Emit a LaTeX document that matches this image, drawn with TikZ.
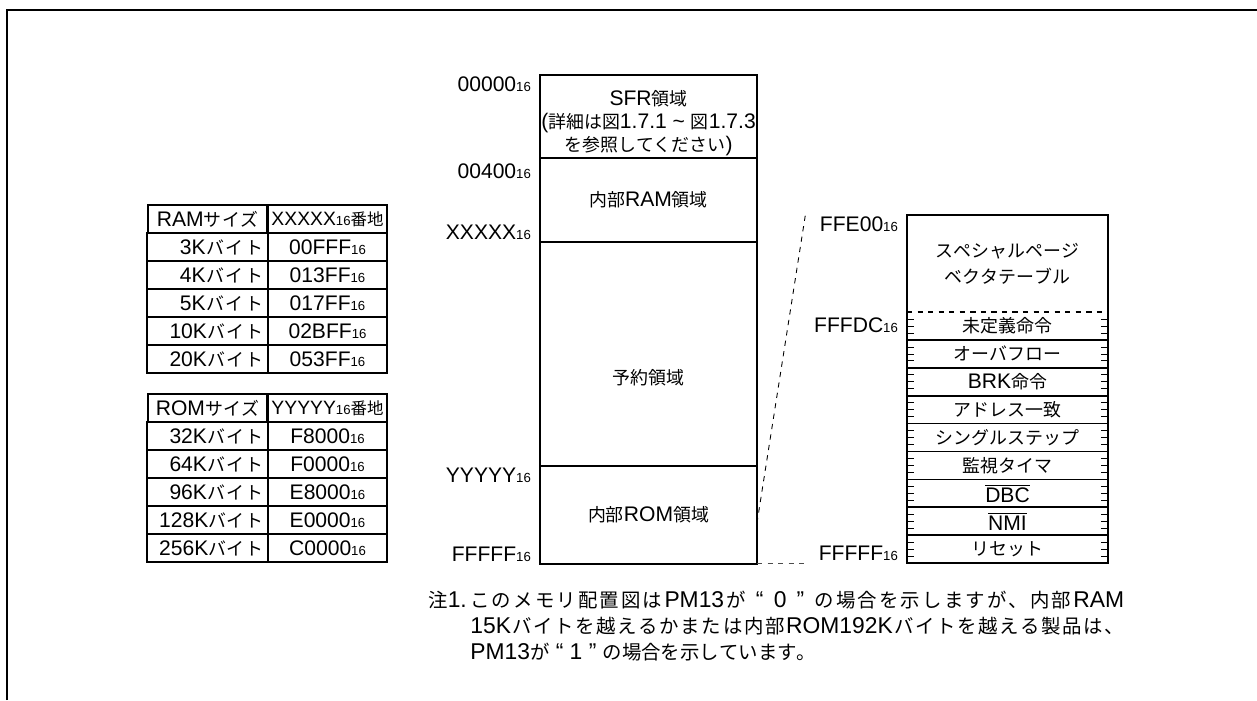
\documentclass[tikz,border=0pt]{standalone}
\usepackage{fontspec}
\setmainfont{Liberation Sans}
\newfontfamily\jp[Scale=0.85]{Noto Sans CJK JP}
\usetikzlibrary{positioning}

% switch to the Japanese font for CJK characters
\XeTeXinterchartokenstate=1
\newXeTeXintercharclass\jpclass
\newcount\jpc
\def\jprange#1#2{\jpc=#1 \loop\XeTeXcharclass\jpc=\jpclass \ifnum\jpc<#2 \advance\jpc by 1 \repeat}
\jprange{"3000}{"30FF}
\jprange{"4E00}{"9FFF}
\jprange{"FF00}{"FFEF}
\XeTeXinterchartoks 0 \jpclass = {\nobreak\hskip0pt plus 1pt\jp}
\XeTeXinterchartoks 4095 \jpclass = {\jp}
\XeTeXinterchartoks \jpclass 0 = {\normalfont\nobreak\hskip0pt plus 1pt}
\XeTeXinterchartoks \jpclass 4095 = {\normalfont}
\XeTeXinterchartoks \jpclass \jpclass = {\nobreak\hskip0pt plus 1pt}

\newcommand\adr[1]{#1{\fontsize{7.5}{8}\selectfont 16}}

\tikzset{%
      base/.style = {rectangle, draw=black, line width=1pt, inner sep=0pt,
                     outer sep=0pt, align=center, font=\fontsize{12}{13}\selectfont},
      area/.style = {base, minimum width=4.34cm},
      vtop/.style = {base, draw=none, minimum width=4.02cm, font=\fontsize{12}{15}\selectfont},
      vrow/.style = {base, draw=none, minimum width=4.02cm, minimum height=0.558cm},
     cellL/.style = {base, line width=0.8pt, minimum height=0.56cm, text width=2.22cm,
                     inner xsep=0.1cm, align=right},
     cellC/.style = {cellL, text width=2.18cm, align=center},
     cellH/.style = {cellC, text width=2.3cm, inner xsep=0.04cm, font=\fontsize{11}{13}\selectfont},
      addr/.style = {inner sep=1pt, font=\fontsize{12}{13}\selectfont},
      note/.style = {inner sep=0pt, align=left, font=\fontsize{13}{14.6}\selectfont},
      tick/.style = {line width=0.4pt},
  zoomline/.style = {line width=0.5pt, dash pattern=on 3pt off 3pt},
}

\begin{document}
\begin{tikzpicture}[x=0.02cm, y=-0.02cm]
  \useasboundingbox (0,0) rectangle (1257,700);
  \draw[line width=1.2pt] (7,700) -- (7,10) -- (1257,10);

  % memory map
  \node (onSFR)     [area, minimum height=1.66cm] at (648.5,116.5) {};
  \node (onSFRTxt)  [base, draw=none] at ([yshift=-0.13cm]onSFR.center)
  {SFR領域\\(詳細は図1.7.1 \textasciitilde{} 図1.7.3\\を参照してください)};
  \node (onRAM)     [area, minimum height=1.68cm, below=0pt of onSFR]  {内部RAM領域};
  \node (onResv)    [area, minimum height=4.48cm, below=0pt of onRAM]  {};
  \node (onResvTxt) [base, draw=none] at ([yshift=-0.48cm]onResv.center) {予約領域};
  \node (onROM)     [area, minimum height=1.96cm, below=0pt of onResv] {内部ROM領域};

  \node (onA0000) [addr, anchor=north east] at ([xshift=-4pt]onSFR.north west)  {\adr{00000}};
  \node (onA0040) [addr, anchor=north east] at ([xshift=-4pt,yshift=-2pt]onRAM.north west) {\adr{00400}};
  \node (onAXXXX) [addr, anchor=south east] at ([xshift=-4pt]onRAM.south west)  {\adr{XXXXX}};
  \node (onAYYYY) [addr, anchor=north east] at ([xshift=-4pt]onROM.north west)  {\adr{YYYYY}};
  \node (onAFFFF) [addr, anchor=south east] at ([xshift=-4pt]onROM.south west)  {\adr{FFFFF}};

  % special page vector table
  \node (onVtop) [vtop, minimum height=1.94cm] at (1007.5,263.5) {スペシャルページ\\ベクタテーブル};
  \foreach \t [count=\i] in {未定義命令, オーバフロー, BRK命令, アドレス一致, シングルステップ,
                             監視タイマ, $\overline{\mbox{DBC}}$, $\overline{\mbox{NMI}}$, リセット}
    \node (onV\i) [vrow] at (1007.5, {312+27.9*(\i-0.5)}) {\t};
  \foreach \i in {1,...,8}
    \draw[line width=1pt] (onV\i.south west) -- (onV\i.south east);
  \foreach \i in {1,...,9}
    \foreach \k in {1,2,3} {
      \draw[tick] ([yshift={-\k*0.1395cm}]onV\i.north west) -- ++(7,0);
      \draw[tick] ([yshift={-\k*0.1395cm}]onV\i.north east) -- ++(-7,0);
    }
  \draw[line width=1pt] (onVtop.north west) rectangle (onV9.south east);
  \draw[line width=0.8pt, dashed] (onVtop.south west) -- (onVtop.south east);

  \node (onBFFE0) [addr, anchor=north east] at ([xshift=-4pt]onVtop.north west) {\adr{FFE00}};
  \node (onBFFDC) [addr, anchor=north east] at ([xshift=-4pt,yshift=-2pt]onVtop.south west) {\adr{FFFDC}};
  \node (onBFFFF) [addr, anchor=south east] at ([xshift=-4pt]onV9.south west) {\adr{FFFFF}};

  \coordinate (onCut)    at ([yshift=-0.16cm]onROM.east);
  \coordinate (onCutTop) at ([xshift=-0.25cm]onBFFE0.north west);
  \draw[zoomline] (onCut) -- (onCutTop);
  \draw[zoomline, black!70, shorten >=5pt] (onROM.south east) -- (onROM.south east -| onBFFFF.west);

  % RAM / ROM size tables
  \node (onRamH1) [cellC] at (207.5,219) {RAMサイズ};
  \node (onRamH2) [cellH] at (327.5,219) {\adr{XXXXX}番地};
  \foreach \sz/\ad [count=\i] in {3/00FFF, 4/013FF, 5/017FF, 10/02BFF, 20/053FF} {
    \node (onRamS\i) [cellL] at (207.5,{219+28*\i}) {\sz Kバイト};
    \node (onRamA\i) [cellC] at (327.5,{219+28*\i}) {\adr{\ad}};
  }
  \node (onRomH1) [cellC] at (207.5,408) {ROMサイズ};
  \node (onRomH2) [cellH] at (327.5,408) {\adr{YYYYY}番地};
  \foreach \sz/\ad [count=\i] in {32/F8000, 64/F0000, 96/E8000, 128/E0000, 256/C0000} {
    \node (onRomS\i) [cellL] at (207.5,{408+28*\i}) {\sz Kバイト};
    \node (onRomA\i) [cellC] at (327.5,{408+28*\i}) {\adr{\ad}};
  }

  % note
  \node (onNoteNo)  [note, anchor=north west] at (428,591) {注1.};
  \node (onNoteTxt) [note, anchor=north west] at (470,591)
  {\makebox[13.08cm][s]{このメモリ配置図はPM13が “ 0 ” の場合を示しますが、内部RAM}\\
   \makebox[13.08cm][s]{15Kバイトを越えるかまたは内部ROM192Kバイトを越える製品は、}\\
   PM13が “ 1 ” の場合を示しています。};
\end{tikzpicture}
\end{document}
